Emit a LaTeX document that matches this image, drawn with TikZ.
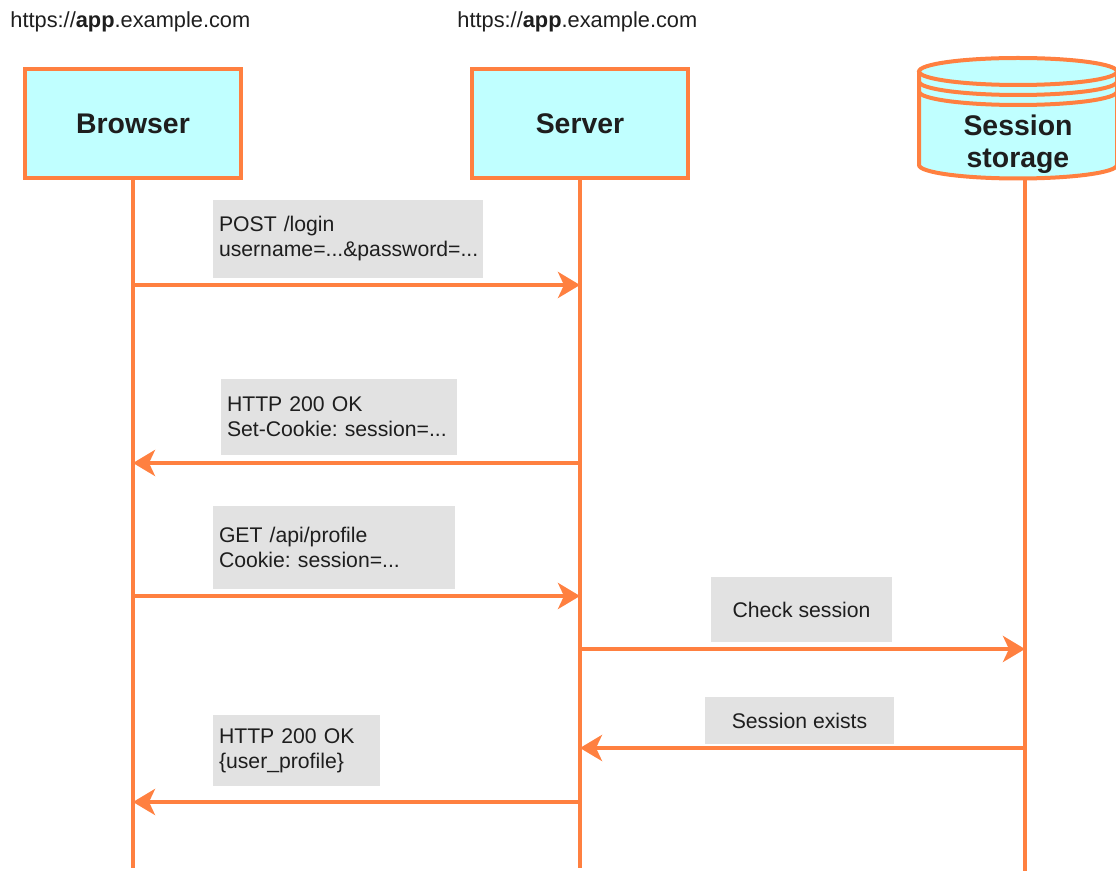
\documentclass[tikz,border=0pt]{standalone}
\usepackage{fontspec}
\setmainfont{Liberation Sans}
\usetikzlibrary{arrows.meta}

\definecolor{linecol}{HTML}{FF8040}
\definecolor{boxfill}{HTML}{C0FFFF}
\definecolor{notefill}{HTML}{E2E2E2}
\definecolor{txt}{HTML}{1E1E1E}

\tikzset{
  actor/.style={draw=linecol, line width=2pt, fill=boxfill, minimum width=108pt,
    minimum height=54.5pt, font=\fontsize{14.2}{16}\selectfont\bfseries, text=txt, align=center},
  life/.style={draw=linecol, line width=2pt},
  msg/.style={draw=linecol, line width=2pt, -{Stealth[length=11pt, width=13pt, inset=3pt]}},
  note/.style={fill=notefill, inner xsep=3pt, inner ysep=0pt,
    font=\fontsize{10.6}{12.5}\selectfont, text=txt, align=left},
  url/.style={font=\fontsize{10.9}{12.5}\selectfont, text=txt, inner sep=0pt, anchor=west}
}

\begin{document}
\frenchspacing
\hyphenpenalty=10000
\begin{tikzpicture}[x=0.5pt, y=-0.5pt]
\useasboundingbox (0,0) rectangle (1116,871);

% origins
\node[url] (url1) at (10,22) {https://\textbf{app}.example.com};
\node[url] (url2) at (457,22) {https://\textbf{app}.example.com};

% participants
\node[actor] (browser) at (133,123.5) {Browser};
\node[actor] (server) at (580,123.5) {Server};

% session storage drum
\path[fill=boxfill] (919,71.5) -- (919,165) arc (180:360:49.5pt and 6.75pt)
    -- (1117,71.5) arc (0:180:49.5pt and 6.75pt) -- cycle;
\draw[life] (919,71.5) -- (919,165) arc (180:360:49.5pt and 6.75pt) -- (1117,71.5);
\draw[life] (1018,71.5) ellipse [x radius=49.5pt, y radius=6.75pt];
\foreach \dy in {10,20}
    \draw[life] (919,71.5+\dy) arc (180:360:49.5pt and 6.75pt);
\node[font=\fontsize{14.2}{16}\selectfont\bfseries, text=txt, align=center, inner sep=0pt]
    (storage) at (1018,144) {Session\\storage};

% lifelines
\coordinate (st top) at (1025,179);
\coordinate (st end) at (1025,871);
\coordinate (br end) at (133,868);
\coordinate (sv end) at (580,868);
\draw[life] (browser.south) -- (br end);
\draw[life] (server.south) -- (sv end);
\draw[life] (st top) -- (st end);

% message rows
\foreach \y [count=\i] in {285,463,596,802} {
    \coordinate (b\i) at (133,\y);
    \coordinate (s\i) at (580,\y);
}
\coordinate (sa) at (580,649);
\coordinate (ta) at (1025,649);
\coordinate (sb) at (580,748);
\coordinate (tb) at (1025,748);

% labels
\node[note, text width=129pt, minimum height=39pt] (n1) at (348,239)
    {POST /login\\username=...\&password=...};
\node[note, text width=112pt, minimum height=38pt] (n2) at (339,417)
    {HTTP 200 OK\\Set-Cookie: session=...};
\node[note, text width=115pt, minimum height=41.5pt] (n3) at (334,547.5)
    {GET /api/profile\\Cookie: session=...};
\node[note, align=center, minimum width=90.5pt, minimum height=32.5pt] (n4) at (801.5,609.5)
    {Check session};
\node[note, align=center, minimum width=94.5pt, minimum height=23.5pt] (n5) at (799.5,720.5)
    {Session exists};
\node[note, text width=77.5pt, minimum height=35.5pt] (n6) at (296.5,750.5)
    {HTTP 200 OK\\\{user\_profile\}};

% messages
\draw[msg] (b1) -- (s1);
\draw[msg] (s2) -- (b2);
\draw[msg] (b3) -- (s3);
\draw[msg] (sa) -- (ta);
\draw[msg] (tb) -- (sb);
\draw[msg] (s4) -- (b4);

\end{tikzpicture}
\end{document}
